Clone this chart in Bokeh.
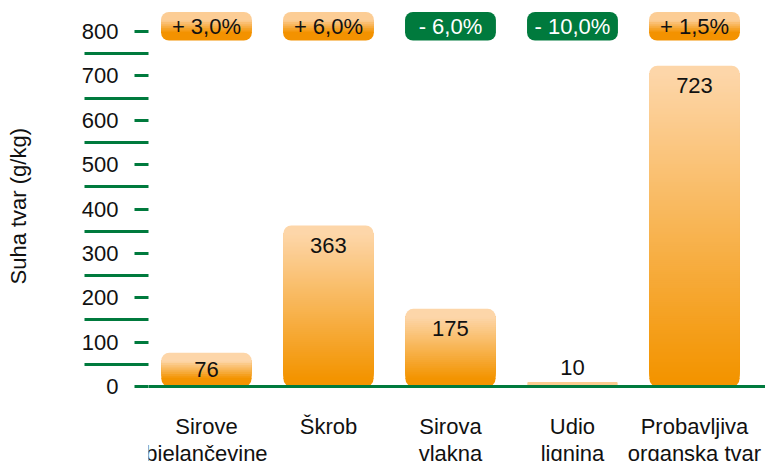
import numpy as np
from bokeh.plotting import figure
from bokeh.models import ColumnDataSource, FixedTicker, Span, Range1d
from bokeh.embed import file_html
from bokeh.resources import INLINE
from bokeh.core.properties import value

# ---------------- data ----------------
categories = ["Sirove\nbjelančevine", "Škrob", "Sirova\nvlakna", "Udio\nlignina",
              "Probavljiva\norganska tvar"]
values = [76, 363, 175, 10, 723]
changes = ["+ 3,0%", "+ 6,0%", "- 6,0%", "- 10,0%", "+ 1,5%"]
change_sign = [1, 1, -1, -1, 1]
y_ticks = [0, 100, 200, 300, 400, 500, 600, 700, 800]
y_minor = [50, 150, 250, 350, 450, 550, 650, 750]
y_label = "Suha tvar (g/kg)"

# ---------------- style / layout ----------------
FONT = "Liberation Sans"
FS = "22px"
GREEN = "#007a3d"
BAR_TOP, BAR_BOT = "#fdd6a9", "#f39400"
BADGE_TOP, BADGE_BOT = "#fccd95", "#f39200"
TEXT = "#111111"
W, H = 765, 461
LEFT = 148
PX = 355.0 / 800.0              # pixels per data unit (y)
Y1 = 800 + 31 / PX
Y0 = -(H - 386) / PX
X0, X1 = -0.475, 4.582
RADIUS = 8                      # px
R = RADIUS / PX
BAR_W = 0.74
BADGE_W = 0.745
BADGE_LO, BADGE_HI = 800 - 9 / PX, 800 + 19.5 / PX

p = figure(width=W, height=H, x_range=Range1d(X0, X1), y_range=Range1d(Y0, Y1),
           output_backend="svg", toolbar_location=None, x_axis_location=None,
           title=y_label, title_location="left",
           min_border_left=LEFT, min_border_right=0, min_border_top=0, min_border_bottom=0)
p.grid.visible = False
p.outline_line_color = None
p.background_fill_color = "white"
p.border_fill_color = "white"

# y-axis title (as a left-side title so it can be placed along the tick span)
p.title.align = "left"
p.title.text_font = FONT
p.title.text_font_size = FS
p.title.text_font_style = "normal"
p.title.text_color = TEXT
p.title.standoff = 4
p.title.offset = 177

ax = p.yaxis[0]
ax.ticker = FixedTicker(ticks=y_ticks, minor_ticks=y_minor)
ax.axis_line_color = None
ax.major_tick_line_color = GREEN
ax.major_tick_line_width = 3
ax.major_tick_out = 14
ax.major_tick_in = 0
ax.minor_tick_line_color = GREEN
ax.minor_tick_line_width = 3
ax.minor_tick_out = 64
ax.minor_tick_in = 0
ax.major_label_text_font = FONT
ax.major_label_text_font_size = FS
ax.major_label_text_color = TEXT
ax.major_label_standoff = -34
# blank spacer label widens the axis panel so the title sits near the left edge
ax.axis_label = "\u00a0"
ax.axis_label_text_font_size = "1px"
ax.axis_label_standoff = 42


def hex2rgb(c):
    c = c.lstrip("#")
    return np.array([int(c[i:i + 2], 16) for i in (0, 2, 4)], dtype=float)


def lerp(c1, c2, t):
    a, b = hex2rgb(c1), hex2rgb(c2)
    m = a + (b - a) * t
    return "#%02x%02x%02x" % tuple(int(round(v)) for v in m)


mid = dict(x=[], bottom=[], top=[], color=[], w=[])
tops = dict(x=[], bottom=[], top=[], color=[], w=[])
bots = dict(x=[], bottom=[], top=[], color=[], w=[])
small = dict(x=[], bottom=[], top=[], color=[], w=[])


def add(d, x, b, t, c, w):
    d["x"].append(x); d["bottom"].append(b); d["top"].append(t)
    d["color"].append(c); d["w"].append(w)


def add_gradient(xc, y_lo, y_hi, c_top, c_bot, w):
    h = y_hi - y_lo
    if h * PX < 2 * RADIUS + 2:
        add(small, xc, y_lo, y_hi, lerp(c_top, c_bot, 0.15), w)
        return
    n = max(2, int((h - 2 * R) * PX / 2))
    edges = np.linspace(y_lo + R, y_hi - R, n + 1)
    for i in range(n):
        add(mid, xc, edges[i], edges[n], lerp(c_bot, c_top, (i + 0.5) / n), w)
    ov = 0.6 / PX
    add(bots, xc, y_lo, y_lo + R + ov, c_bot, w)
    add(tops, xc, y_hi - R - ov, y_hi, c_top, w)


for i, v in enumerate(values):
    add_gradient(i, 0, v, BAR_TOP, BAR_BOT, BAR_W)

green_badges = dict(x=[], bottom=[], top=[])
for i, s in enumerate(change_sign):
    if s > 0:
        add_gradient(i, BADGE_LO, BADGE_HI, BADGE_TOP, BADGE_BOT, BADGE_W)
    else:
        green_badges["x"].append(i)
        green_badges["bottom"].append(BADGE_LO)
        green_badges["top"].append(BADGE_HI)

p.vbar(x="x", bottom="bottom", top="top", width="w", fill_color="color", line_color=None,
       source=ColumnDataSource(mid))
p.vbar(x="x", bottom="bottom", top="top", width="w", fill_color="color", line_color=None,
       border_radius=(0, 0, RADIUS, RADIUS), source=ColumnDataSource(bots))
p.vbar(x="x", bottom="bottom", top="top", width="w", fill_color="color", line_color=None,
       border_radius=(RADIUS, RADIUS, 0, 0), source=ColumnDataSource(tops))
p.vbar(x="x", bottom="bottom", top="top", width="w", fill_color="color", line_color=None,
       border_radius=1, source=ColumnDataSource(small))
p.vbar(x="x", bottom="bottom", top="top", width=BADGE_W, fill_color=GREEN, line_color=None,
       border_radius=RADIUS, source=ColumnDataSource(green_badges))

p.add_layout(Span(location=0, dimension="width", line_color=GREEN, line_width=3))

# value labels
offs = []
for v in values:
    hpx = v * PX
    if hpx > 50:
        offs.append(20)
    elif hpx > 20:
        offs.append(hpx / 2)
    else:
        offs.append(-15)
p.text(x=list(range(len(values))), y=values, text=[str(v) for v in values], y_offset=offs,
       text_align="center", text_baseline="middle", text_font=value(FONT),
       text_font_size=FS, text_color=TEXT)

# badge labels
p.text(x=list(range(len(changes))), y=[(BADGE_LO + BADGE_HI) / 2] * len(changes),
       text=changes, text_align="center", text_baseline="middle", text_font=value(FONT),
       text_font_size=FS,
       text_color=[TEXT if s > 0 else "white" for s in change_sign])

# category labels
p.text(x=list(range(len(categories))), y=[0] * len(categories), text=categories,
       y_offset=27, text_align="center", text_baseline="top", text_font=value(FONT),
       text_font_size=FS, text_line_height=1.1, text_color=TEXT)

open("out.html", "w").write(file_html(p, INLINE))
